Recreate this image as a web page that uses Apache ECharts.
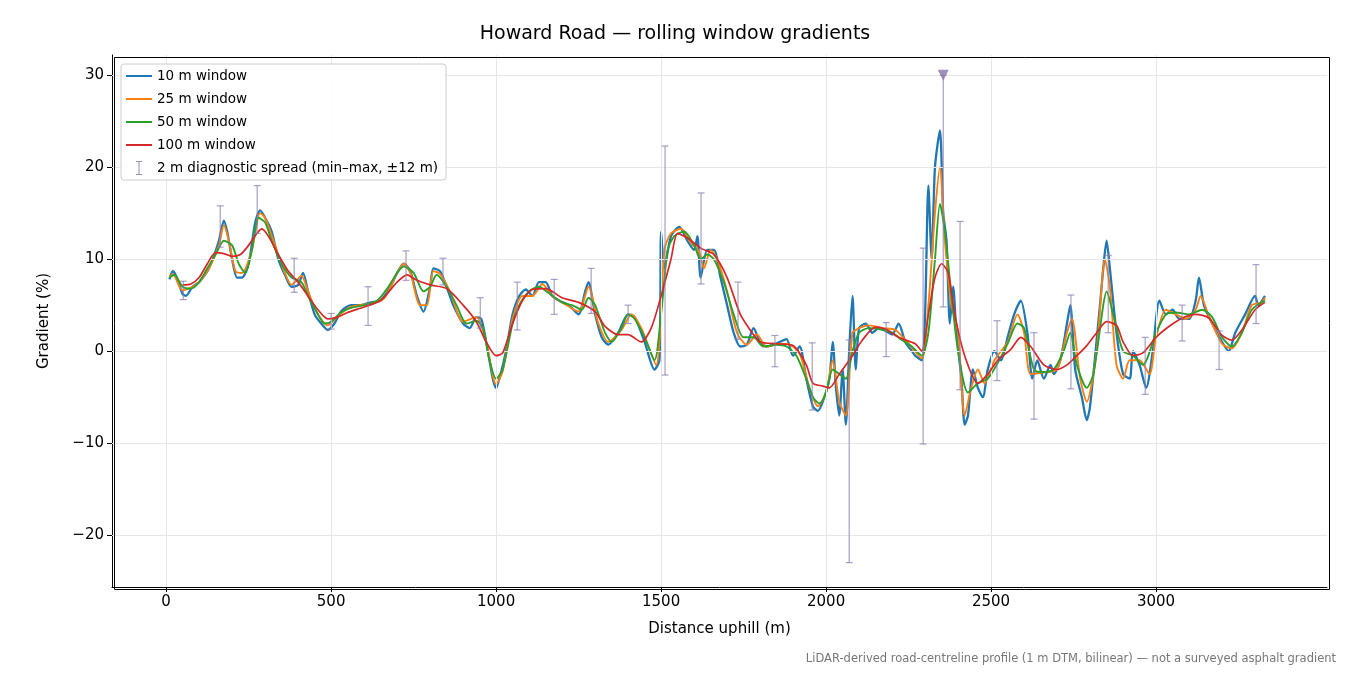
<!DOCTYPE html>
<html><head><meta charset="utf-8">
<script src="https://cdn.jsdelivr.net/npm/echarts@6/dist/echarts.min.js"></script>
<style>html,body{margin:0;padding:0;background:#fff}#c{width:1350px;height:675px}</style>
</head><body><div id="c"></div>
<script>
const w10 = [[10,7.8],[20,8.7],[30,8.2],[50,6.2],[60,6],[80,7],[100,7.5],[130,9],[160,12],[175,14.2],[185,13],[200,10],[215,8],[230,8],[250,9.5],[270,14],[285,15.3],[300,14.5],[320,13],[340,10],[360,8.3],[380,7],[400,7.2],[415,8.5],[430,6.5],[450,4],[470,3],[490,2.3],[510,3],[530,4.3],[560,5],[590,5],[620,5.3],[650,5.5],[680,7],[700,8.5],[720,9.5],[740,8.7],[760,6],[780,4.3],[800,7],[810,9],[830,8.7],[850,7],[870,5],[900,3],[920,2.5],[940,3.7],[955,3.5],[970,1],[990,-3],[1000,-4],[1010,-3],[1030,0],[1050,4],[1070,6],[1090,6.7],[1110,6],[1130,7.5],[1150,7.5],[1170,6],[1190,5.5],[1220,5],[1250,4],[1270,6.5],[1280,7.5],[1300,4],[1320,1.5],[1340,0.7],[1370,2],[1400,4],[1420,3.7],[1450,1],[1480,-2],[1495,-1],[1500,13],[1510,9],[1530,12.5],[1555,13.5],[1580,12],[1600,11],[1610,12.5],[1620,8],[1640,11],[1660,11],[1680,8],[1700,5],[1720,2],[1740,0.5],[1760,0.7],[1780,2.5],[1800,1],[1820,0.5],[1840,0.7],[1860,1],[1880,1.3],[1900,-0.5],[1920,0.5],[1940,-3],[1960,-6],[1975,-6.5],[1990,-5.5],[2010,-3],[2020,1],[2030,-4],[2040,-7],[2050,-2],[2060,-8],[2070,0],[2080,6],[2090,-2],[2100,2.5],[2120,3],[2140,2],[2160,2.5],[2180,2.2],[2200,1.8],[2220,3],[2240,1],[2260,0],[2270,-0.5],[2290,-1],[2300,4],[2310,18],[2320,10],[2330,20],[2345,24],[2355,15],[2365,12],[2375,3],[2385,7],[2395,2],[2410,-3],[2420,-8],[2430,-7],[2445,-2],[2460,-4],[2475,-5],[2490,-2],[2510,0],[2530,-1],[2550,1.5],[2570,4],[2590,5.5],[2610,2],[2625,-3],[2640,-1],[2660,-3],[2680,-1.5],[2690,-2.5],[2710,-1],[2730,3],[2740,5],[2755,-2],[2775,-5],[2790,-7.5],[2800,-6],[2830,5],[2840,9],[2850,12],[2860,9],[2880,2],[2900,-2.5],[2920,-3],[2930,0],[2950,-1.5],[2970,-4],[2990,0],[3010,5.5],[3030,4],[3050,4.5],[3070,3.5],[3100,3.5],[3120,5.5],[3130,8],[3145,5],[3170,3],[3200,1],[3220,0],[3240,2],[3270,4],[3300,6],[3310,5],[3330,6]];
const w25 = [[10,8],[20,8.4],[50,6.6],[80,7],[100,7.5],[130,9],[160,11.5],[175,13.7],[190,12],[210,8.7],[230,8.5],[260,11],[285,15],[300,14.5],[330,11.5],[360,8.5],[380,7.2],[410,8.2],[430,6.5],[460,4],[490,2.8],[520,3.8],[560,4.8],[620,5.2],[660,5.7],[700,8.5],[720,9.5],[740,8.5],[770,5],[790,5],[810,8.7],[830,8.4],[860,6.5],[900,3.2],[940,3.7],[970,1],[1000,-3.6],[1020,-2.2],[1050,3.5],[1080,6],[1110,6],[1140,7.3],[1170,6],[1200,5.3],[1250,4.3],[1280,7],[1310,3],[1340,1],[1380,2.3],[1410,4],[1440,2.5],[1485,-1.5],[1510,11],[1530,12.8],[1560,13.3],[1590,11.8],[1615,10.8],[1630,9],[1650,11],[1670,10],[1700,6.5],[1730,2],[1760,0.7],[1790,1.8],[1820,0.5],[1860,0.8],[1890,0.7],[1920,-0.3],[1950,-4],[1975,-6],[2000,-4.5],[2020,-1],[2040,-5.5],[2060,-7],[2080,2],[2100,2.5],[2130,2.8],[2170,2.5],[2210,2.3],[2250,0.8],[2290,-0.8],[2310,5],[2330,15],[2345,20],[2360,12],[2380,5],[2400,2],[2420,-7],[2440,-4],[2460,-2],[2480,-3.5],[2510,-1],[2550,1],[2580,4],[2600,2],[2620,-2.5],[2660,-2.3],[2700,-2],[2730,2],[2745,3.5],[2770,-3],[2790,-5.5],[2820,0],[2845,10],[2860,7],[2880,-1.5],[2900,-3],[2920,-1],[2950,-1],[2980,-2.5],[3000,1.5],[3030,4.5],[3060,4],[3090,3.5],[3120,4.5],[3135,6],[3160,3.8],[3200,0.8],[3230,0.3],[3260,2],[3290,5],[3320,5.3],[3330,5.8]];
const w50 = [[10,8],[25,8.3],[50,7],[75,6.8],[100,7.5],[125,9],[150,10.5],[175,12],[200,11.5],[220,9.5],[240,8.5],[260,11],[280,14.5],[300,14],[320,12],[350,9.5],[380,8],[410,7.5],[430,6],[460,4],[480,3],[500,3.2],[530,4.2],[560,4.7],[600,5],[640,5.5],[670,6.8],[700,8.5],[720,9.2],[750,8.5],[780,6.5],[800,7],[820,8.3],[850,7],[880,5],[910,3],[940,3.3],[960,2.5],[980,-1],[1000,-3],[1020,-2],[1050,3],[1070,5],[1100,6.5],[1130,7],[1160,6.3],[1200,5.3],[1230,5],[1260,4.5],[1280,5.8],[1300,5],[1330,2],[1350,1],[1380,2.5],[1400,4],[1420,3.5],[1450,1.5],[1480,-1],[1500,4],[1520,11],[1540,12.5],[1570,13],[1600,11.5],[1620,10],[1640,10.5],[1660,10],[1690,7.5],[1720,4],[1750,1.5],[1780,1.5],[1810,0.5],[1850,0.7],[1880,0.5],[1910,-0.5],[1940,-3],[1960,-5],[1980,-5.7],[2000,-4.5],[2020,-2],[2040,-2.5],[2060,-3],[2080,0],[2100,2],[2130,2.5],[2160,2.4],[2200,2],[2230,1.2],[2260,0.5],[2290,-0.5],[2310,2],[2330,10],[2345,16],[2360,13],[2380,6],[2400,0],[2430,-4.5],[2460,-3.5],[2490,-3],[2520,-1.3],[2550,0.8],[2580,3],[2600,2.5],[2630,-2],[2660,-2.3],[2690,-2],[2720,0],[2740,2],[2760,-1.5],[2790,-4],[2810,-2.5],[2840,5],[2850,6.5],[2870,4],[2900,0],[2930,-0.5],[2960,-1.5],[3000,2],[3030,4],[3060,4.2],[3100,4],[3140,4.5],[3170,3.7],[3200,1.5],[3230,0.5],[3260,2],[3290,4.5],[3330,5.5]];
const w100 = [[50,7.2],[75,7.3],[100,8],[125,9.5],[150,10.7],[175,10.6],[200,10.3],[225,10.5],[250,11.5],[275,12.8],[290,13.3],[310,12.5],[340,10.5],[370,8.7],[400,7.5],[430,6],[460,4.5],[490,3.5],[520,3.7],[550,4.2],[600,4.8],[650,5.5],[700,7.5],[730,8.3],[760,7.7],[800,7.2],[850,6.8],[900,5],[940,3.2],[970,1],[1000,-0.5],[1020,-0.2],[1050,3],[1080,5.5],[1110,6.7],[1150,6.8],[1200,5.8],[1250,5.3],[1300,4.3],[1330,2.7],[1370,1.8],[1400,1.8],[1440,1],[1470,2.5],[1500,6],[1530,10],[1550,12.8],[1580,12.3],[1620,11.2],[1660,10.5],[1700,8],[1740,4],[1780,1.8],[1800,1],[1850,0.8],[1900,0.6],[1940,-1.5],[1960,-3.5],[1990,-3.8],[2010,-4],[2040,-2.5],[2080,-0.5],[2110,1.2],[2150,2.6],[2180,2.4],[2220,1.5],[2270,0.8],[2290,0],[2310,4],[2330,8],[2350,9.5],[2370,8.5],[2390,4],[2420,-0.5],[2460,-3.5],[2490,-2.5],[2520,-1],[2560,0.2],[2590,1.5],[2620,0.5],[2660,-1.5],[2700,-2],[2730,-1.5],[2760,-0.5],[2790,0.6],[2820,2],[2850,3.2],[2880,2.8],[2900,1],[2930,-0.5],[2960,-0.2],[3000,1.5],[3040,2.7],[3080,3.6],[3120,4],[3160,3.6],[3200,1.7],[3230,1.2],[3260,2.3],[3300,4.5],[3330,5.3]];
const spreadX = [52,164,276,388,500,612,727,839,952,1064,1176,1288,1400,1512,1621,1733,1845,1958,2070,2182,2294,2355,2406,2518,2630,2742,2855,2967,3079,3191,3303];
const spreadLo = [5.6,11.3,12.8,6.4,2.4,2.8,7.7,7.2,2.5,2.3,4.0,4.1,3.0,-2.6,7.3,1.3,-1.7,-6.4,-23,-0.6,-10.1,4.8,-4.2,-3.2,-7.4,-4.1,2.0,-4.7,1.1,-2.0,3.0];
const spreadHi = [7.6,15.8,18.0,10.1,4.1,7.0,10.9,10.1,5.8,7.5,7.8,9.0,5.0,22.3,17.2,7.5,1.7,0.9,1.2,3.1,11.2,30,14.1,3.3,2.0,6.1,10.4,1.5,5.0,2.2,9.4];
const clippedX = [2355], clippedY = [30];
const xTicks = [0,500,1000,1500,2000,2500,3000];
const yTicks = [-20,-10,0,10,20,30];

const F = 'DejaVu Sans';
const spreadData = spreadX.map((x,i)=>[x,spreadLo[i],spreadHi[i]]);
const grid = '#e6e6e6';
const chart = echarts.init(document.getElementById('c'));
const lineS = (name,data,color,w,z)=>({name,type:'line',data,showSymbol:false,symbol:'none',smooth:0.25,lineStyle:{color,width:w},itemStyle:{color},z,animation:false});
chart.setOption({
  animation:false,
  title:{text:'Howard Road — rolling window gradients',left:'center',top:20,textStyle:{fontFamily:F,fontSize:19,fontWeight:'normal',color:'#000'}},
  grid:{left:112,right:23,top:55,bottom:88},
  legend:{orient:'vertical',left:121,top:64,itemGap:9,itemWidth:26,itemHeight:14,padding:[5,8,5,5],z:20,
    backgroundColor:'rgba(255,255,255,0.9)',borderColor:'#ccc',borderWidth:1,borderRadius:3,
    textStyle:{fontFamily:F,fontSize:13.5,color:'#000'},
    data:[
      {name:'10 m window',icon:'path://M0,6h26v2H0z'},
      {name:'25 m window',icon:'path://M0,6h26v2H0z'},
      {name:'50 m window',icon:'path://M0,6h26v2H0z'},
      {name:'100 m window',icon:'path://M0,6h26v2H0z'},
      {name:'2 m diagnostic spread (min–max, ±12 m)',icon:'path://M10,0h6v1h-2.5v12h2.5v1h-6v-1h2.5v-12h-2.5z'}
    ]},
  xAxis:{type:'value',min:-164,max:3518,
    axisLine:{onZero:false,lineStyle:{color:'#000'}},
    axisTick:{customValues:xTicks,length:5,lineStyle:{color:'#000'}},
    axisLabel:{customValues:xTicks,fontFamily:F,fontSize:15,color:'#000',margin:8,formatter:v=>String(v)},
    splitLine:{show:false},
    name:'Distance uphill (m)',nameLocation:'middle',nameGap:35,nameTextStyle:{fontFamily:F,fontSize:15,color:'#000'}},
  yAxis:{type:'value',min:-25.65,max:32.2,
    axisLine:{show:true,onZero:false,lineStyle:{color:'#000'}},
    axisTick:{show:true,customValues:yTicks,length:5,lineStyle:{color:'#000'}},
    axisLabel:{customValues:yTicks,fontFamily:F,fontSize:15,color:'#000',margin:8,formatter:v=>v<0?'−'+Math.abs(v):String(v)},
    splitLine:{show:false},
    name:'Gradient (%)',nameLocation:'middle',nameGap:60,nameTextStyle:{fontFamily:F,fontSize:15,color:'#000'}},
  graphic:[{type:'text',right:14,top:653,style:{text:'LiDAR-derived road-centreline profile (1 m DTM, bilinear) — not a surveyed asphalt gradient',fontFamily:F,fontSize:11.5,fill:'#777'}},
           {type:'rect',left:112,top:55,shape:{width:1215,height:532},style:{fill:'none',stroke:'#000',lineWidth:1},z:100}],
  series:[
    {type:'line',data:[],silent:true,markLine:{silent:true,symbol:'none',label:{show:false},lineStyle:{color:grid,width:1,type:'solid'},
      data:xTicks.map(v=>({xAxis:v})).concat(yTicks.map(v=>({yAxis:v})))},z:0},
    lineS('10 m window',w10,'#1f77b4',2.3,2),
    lineS('25 m window',w25,'#ff7f0e',1.9,3),
    lineS('50 m window',w50,'#2ca02c',1.9,4),
    lineS('100 m window',w100,'#d62728',1.7,5),
    {name:'2 m diagnostic spread (min–max, ±12 m)',type:'custom',data:spreadData,z:6,itemStyle:{color:'#9b8fbd'},
      encode:{x:0,y:[1,2]},
      renderItem:(p,api)=>{const lo=api.coord([api.value(0),api.value(1)]),hi=api.coord([api.value(0),api.value(2)]);
        const s={stroke:'rgba(140,125,175,0.75)',lineWidth:1.2};
        return {type:'group',children:[
          {type:'line',shape:{x1:lo[0],y1:lo[1],x2:hi[0],y2:hi[1]},style:s},
          {type:'line',shape:{x1:lo[0]-3.5,y1:lo[1],x2:lo[0]+3.5,y2:lo[1]},style:s},
          {type:'line',shape:{x1:hi[0]-3.5,y1:hi[1],x2:hi[0]+3.5,y2:hi[1]},style:s}]};}},
    {type:'scatter',data:clippedX.map((x,i)=>[x,clippedY[i]]),symbol:'triangle',symbolRotate:180,symbolSize:11,itemStyle:{color:'#8677a8'},z:7,silent:true}
  ]
});
</script></body></html>
